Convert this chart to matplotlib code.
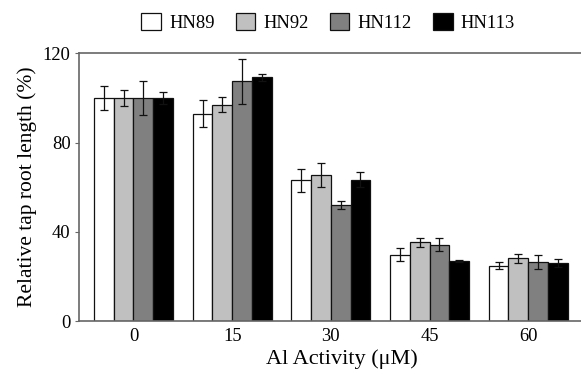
import numpy as np
import matplotlib
matplotlib.use("Agg")
import matplotlib.pyplot as plt

plt.rcParams['font.family'] = ['Liberation Serif', 'DejaVu Serif']

al_activity = ['0', '15', '30', '45', '60']
lines = ['HN89', 'HN92', 'HN112', 'HN113']
colors = ['#ffffff', '#c0c0c0', '#808080', '#000000']

# relative tap root length (%) and error per line
hn89 = [100, 93, 63, 29.7, 24.8]
hn92 = [100, 97, 65.5, 35.2, 28.2]
hn112 = [100, 107.5, 52, 34.3, 26.5]
hn113 = [100, 109.2, 63.4, 27, 25.8]
hn89_err = [5.5, 6, 5, 3, 1.5]
hn92_err = [3.5, 3.5, 5.5, 2, 2]
hn112_err = [7.5, 10, 2, 3, 3]
hn113_err = [2.5, 1.5, 3.3, 0.5, 1.8]

values = [hn89, hn92, hn112, hn113]
errors = [hn89_err, hn92_err, hn112_err, hn113_err]

fig = plt.figure(figsize=(5.81, 3.77), dpi=100)
ax = fig.add_axes([0.136, 0.1485, 0.864, 0.71])

x = np.arange(len(al_activity))
width = 0.2
for i, (vals, errs) in enumerate(zip(values, errors)):
    pos = x - 0.3 + i * width
    ax.bar(pos, vals, width, color=colors[i], edgecolor='#111111', linewidth=0.9,
           label=lines[i], zorder=2)
    ax.errorbar(pos, vals, yerr=errs, fmt='none', ecolor='#111111',
                elinewidth=0.9, capsize=3, capthick=0.9, zorder=3)

ax.set_xlim(-0.552, 4.535)
ax.set_ylim(0, 120)
ax.set_yticks([0, 40, 80, 120])
ax.set_xticks(x)
ax.set_xticklabels(al_activity)
ax.tick_params(axis='x', length=0, labelsize=13.3, pad=5)
ax.tick_params(axis='y', length=3, labelsize=13.3, color='#666666', pad=3)
for side in ['left', 'top', 'bottom']:
    ax.spines[side].set_color('#666666')
    ax.spines[side].set_linewidth(1.2)
ax.spines['right'].set_visible(False)

ax.set_xlabel('Al Activity (\u03bcM)', fontsize=16)
ax.xaxis.set_label_coords(0.524, -0.105)
ax.set_ylabel('Relative tap root length (%)', fontsize=15.5, labelpad=4)

fig.legend(loc='upper center', bbox_to_anchor=(0.565, 1.01), ncol=4,
           frameon=False, fontsize=13.3, handlelength=1.05, handleheight=1.05,
           handletextpad=0.45, columnspacing=1.15)

fig.savefig('out.png', dpi=100)
